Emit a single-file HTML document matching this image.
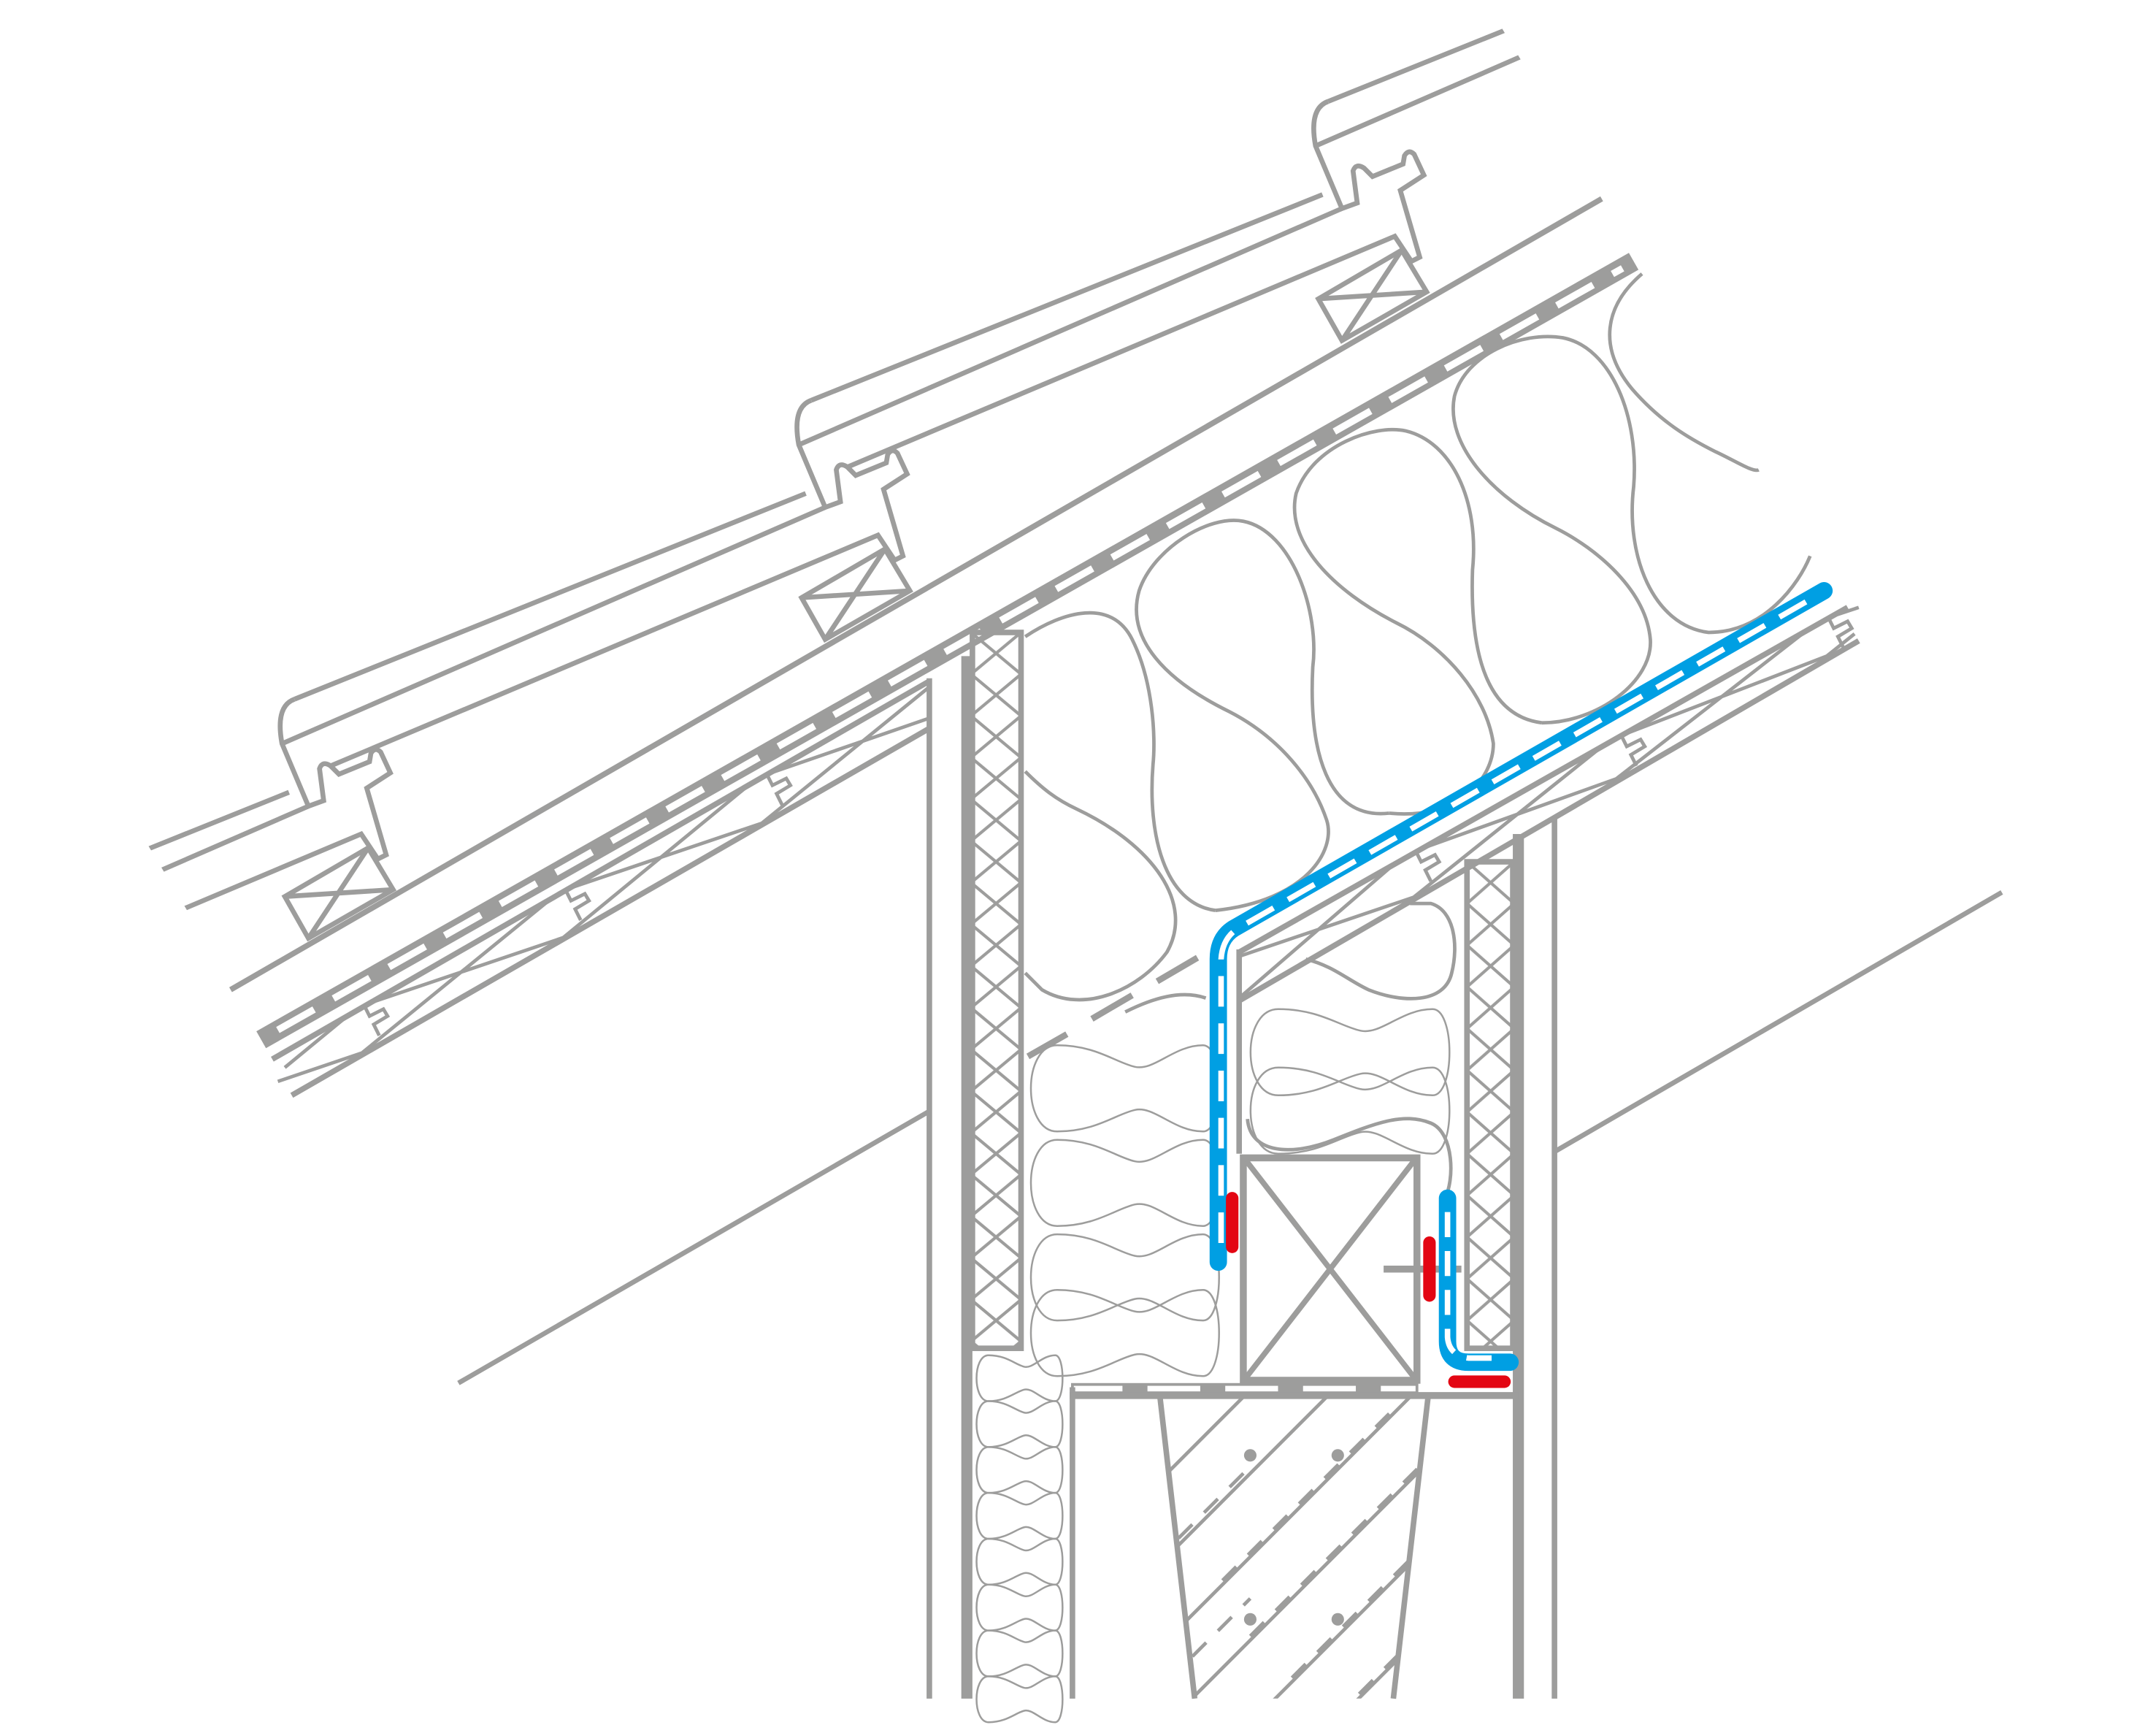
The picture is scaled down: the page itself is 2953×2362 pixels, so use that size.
<!DOCTYPE html>
<html><head><meta charset="utf-8"><style>html,body{margin:0;padding:0;background:#fff}svg{display:block}</style></head>
<body>
<svg xmlns="http://www.w3.org/2000/svg" xmlns:xlink="http://www.w3.org/1999/xlink" width="2953" height="2362" viewBox="0 0 1552 1241" preserveAspectRatio="none">
<defs>
<clipPath id="tc"><polygon points="-258,0 1069,0 1813,1241 486,1241"/></clipPath>
<pattern id="xh" patternUnits="userSpaceOnUse" x="699" y="455" width="36" height="30">
<path d="M0,0 L36,30 M36,0 L0,30" stroke="#9d9d9c" stroke-width="2.2" fill="none"/></pattern>
<pattern id="xh2" patternUnits="userSpaceOnUse" x="1056" y="620" width="34" height="30">
<path d="M0,0 L34,30 M34,0 L0,30" stroke="#9d9d9c" stroke-width="2.2" fill="none"/></pattern>
<path id="pil" vector-effect="non-scaling-stroke" d="M15,0 C35,0 45,20 55,25 C65,30 75,0 90,0 C101,0 101,100 90,100 C75,100 65,70 55,75 C45,80 35,100 15,100 C-3,100 -3,0 15,0 Z"/>
<g id="tile" fill="none">
<path d="M0,0 L368,-148"/>
<path d="M0,0 Q-14,5 -9,32 L10,77 L21,73 L18,50 Q20,44 26,48 L32,54 L54,45 L55,39 Q58,34 62,38 L69,53 L52,64 L66,112 L60,115 L48,97 L-346,263"/>
<path d="M-9,32 L382,-138"/>
</g>
<g id="batten" fill="none">
<polygon points="-7,142 53,107 71,137 10,172"/>
<path d="M-7,142 L71,137 M10,172 L53,107"/>
</g>
<clipPath id="lint"><polygon points="835,1005 1028,1005 1003,1222 860,1222"/></clipPath>
</defs>

<g stroke="#9d9d9c" stroke-width="3.5" fill="none" stroke-linejoin="miter">
<g clip-path="url(#tc)">
<use href="#tile" transform="translate(-160,718)"/>
<use href="#tile" transform="translate(212,503)"/>
<use href="#tile" transform="translate(584,288)"/>
<use href="#tile" transform="translate(956,73)"/>
</g>
<use href="#batten" transform="translate(212,503)"/>
<use href="#batten" transform="translate(584,288)"/>
<use href="#batten" transform="translate(956,73)"/>

<line x1="166" y1="712" x2="1153" y2="143" stroke-width="4"/>

<line x1="188" y1="748" x2="1176" y2="188" stroke-width="14"/>
<line x1="200" y1="741" x2="1168" y2="193" stroke="#fff" stroke-width="5" stroke-dasharray="30 16"/>

<line x1="196" y1="762" x2="668" y2="490.6" stroke-width="4"/>
<line x1="210" y1="788" x2="668" y2="524.6" stroke-width="4"/>
<path d="M200,778 L265,756 M265,722 L410,673 M410,639 L555,590 M555,556 L668,517
M205,768 L250,731 M255,762 L395,648 M400,679 L540,564 M545,595 L668,495" stroke-width="2.5"/>
<path d="M262,723 l4,8 l10,-5 l3,5 l-10,6 l4,8 M407,640 l4,8 l10,-5 l3,5 l-10,6 l4,8 M552,557 l4,8 l10,-5 l3,5 l-10,6 l4,8" stroke-width="2.5"/>

<line x1="330" y1="995" x2="668" y2="800"/>
<line x1="1120" y1="828" x2="1441" y2="642"/>

<line x1="669" y1="488" x2="669" y2="1222" stroke-width="4"/>
<line x1="696" y1="472" x2="696" y2="1222" stroke-width="8"/>
<rect x="700" y="455" width="35" height="515" fill="url(#xh)" stroke-width="4"/>
<line x1="772" y1="998" x2="772" y2="1222" stroke-width="4"/>

<line x1="1093" y1="600" x2="1093" y2="1222" stroke-width="8"/>
<line x1="1119" y1="588" x2="1119" y2="1222" stroke-width="4"/>
<rect x="1056" y="620" width="33" height="350" fill="url(#xh2)" stroke-width="4"/>

<line x1="892" y1="685" x2="1330" y2="437" stroke-width="4"/>
<line x1="892" y1="720" x2="1338" y2="461" stroke-width="4"/>
<line x1="892" y1="683" x2="892" y2="830" stroke-width="4"/>
<path d="M892,688 L1022,644 M1022,611 L1167,559 M1170,528 L1315,472 M1320,443 L1338,437
M892,718 L1002,623 M1012,650 L1152,538 M1160,563 L1300,454 M1310,476 L1335,456" stroke-width="2.5"/>
<path d="M1019,612 l4,8 l10,-5 l3,5 l-10,6 l4,8 M1167,529 l4,8 l10,-5 l3,5 l-10,6 l4,8 M1316,444 l4,8 l10,-5 l3,5 l-10,6 l4,8" stroke-width="2.5"/>

<path d="M740,760 L768,744 M786,733 L815,716 M833,706 L862,689" stroke-width="4.5"/>

<g stroke-width="2.5">
<path d="M738,458 C765,440 800,430 815,460 C830,490 832,530 830,550 C826,600 838,650 875,655"/>
<path d="M738,555 C750,567 760,575 775,582 C830,608 860,650 840,685 C820,712 780,730 750,712 L738,700"/>
<path d="M875,655 C940,648 962,612 955,590 C945,560 920,530 885,512 C840,490 810,460 820,425 C830,395 870,370 895,375 C930,382 950,440 945,480 C942,540 955,590 1000,585"/>
<path d="M1000,585 C1050,590 1075,560 1075,535 C1070,500 1040,465 1005,448 C960,425 925,390 933,355 C945,320 990,305 1012,310 C1045,318 1065,360 1060,410 C1058,470 1070,515 1110,520"/>
<path d="M1110,520 C1150,520 1190,490 1188,460 C1185,425 1150,395 1120,380 C1075,358 1040,320 1047,285 C1055,255 1095,238 1125,243 C1160,250 1180,300 1176,350 C1170,400 1190,450 1230,455 C1270,455 1295,420 1303,400"/>
<path d="M1182,197 C1155,220 1150,250 1175,280 C1195,303 1215,315 1235,325 C1250,332 1262,340 1266,338"/>
<path d="M810,728 C830,718 850,712 868,718"/>
<use href="#pil" transform="translate(740,752) scale(1.4,0.62)"/>
<use href="#pil" transform="translate(740,820) scale(1.4,0.62)"/>
<use href="#pil" transform="translate(740,888) scale(1.4,0.62)"/>
<use href="#pil" transform="translate(740,928) scale(1.4,0.62)"/>
<path d="M940,690 C960,695 970,705 985,712 C1010,722 1040,722 1045,700 C1050,680 1047,655 1030,650 L1015,650"/>
<use href="#pil" transform="translate(898,726) scale(1.48,0.62)"/>
<use href="#pil" transform="translate(898,768) scale(1.48,0.62)"/>
<path d="M898,805 C900,830 930,832 960,820 C990,808 1010,800 1030,808 C1047,815 1047,850 1040,862"/>
<use href="#pil" transform="translate(702,975) scale(0.64,0.33)"/>
<use href="#pil" transform="translate(702,1008) scale(0.64,0.33)"/>
<use href="#pil" transform="translate(702,1041) scale(0.64,0.33)"/>
<use href="#pil" transform="translate(702,1074) scale(0.64,0.33)"/>
<use href="#pil" transform="translate(702,1107) scale(0.64,0.33)"/>
<use href="#pil" transform="translate(702,1140) scale(0.64,0.33)"/>
<use href="#pil" transform="translate(702,1173) scale(0.64,0.33)"/>
<use href="#pil" transform="translate(702,1206) scale(0.64,0.33)"/>
</g>

<rect x="772" y="996" width="248" height="6" stroke-width="2"/>
<path d="M808,999 h18 M864,999 h18 M920,999 h18 M976,999 h18" stroke-width="6"/>
<line x1="770" y1="1004" x2="1093" y2="1004" stroke-width="5"/>

<rect x="895" y="833" width="125" height="160" stroke-width="5"/>
<path d="M897,835 L1018,991 M1018,835 L897,991" stroke-width="4"/>
<line x1="996" y1="913" x2="1052" y2="913" stroke-width="5"/>

<path d="M835,1005 L860,1222 M1028,1005 L1003,1222" stroke-width="4"/>
<g clip-path="url(#lint)" stroke-width="2.5">
<path d="M780,1120 L900,1000 M780,1180 L960,1000 M780,1240 L1020,1000 M820,1260 L1060,1020 M880,1260 L1060,1080 M940,1260 L1060,1140 M1000,1260 L1060,1200"/>
<path d="M830,1125 L900,1055 M880,1137 L1000,1017 M900,1177 L1030,1047 M930,1207 L1030,1107 M960,1237 L1040,1157 M840,1210 L900,1150" stroke-dasharray="14 12"/>
</g>
</g>
<g fill="#9d9d9c">
<circle cx="900" cy="1047" r="4.5"/><circle cx="963" cy="1047" r="4.5"/>
<circle cx="900" cy="1165" r="4.5"/><circle cx="963" cy="1165" r="4.5"/>
</g>

<g fill="none" stroke-linecap="round" stroke-linejoin="round">
<path d="M1313,425 L888,668 Q877,675 877,690 L877,908" stroke="#009fe3" stroke-width="12.5"/>
<path d="M1300,433 L891,668 Q880,675 879,690 L879,900" stroke="#fff" stroke-width="4" stroke-dasharray="22 12" stroke-linecap="butt"/>
<path d="M1042,862 L1042,965 Q1042,980 1057,980 L1087,980" stroke="#009fe3" stroke-width="12.5"/>
<path d="M1042,872 L1042,962 Q1043,975 1057,977 L1080,977" stroke="#fff" stroke-width="4" stroke-dasharray="18 10" stroke-linecap="butt"/>
<path d="M887,862 L887,897 M1029,894 L1029,932 M1047,994 L1083,994" stroke="#e30613" stroke-width="9"/>
</g>
</svg>
</body></html>
